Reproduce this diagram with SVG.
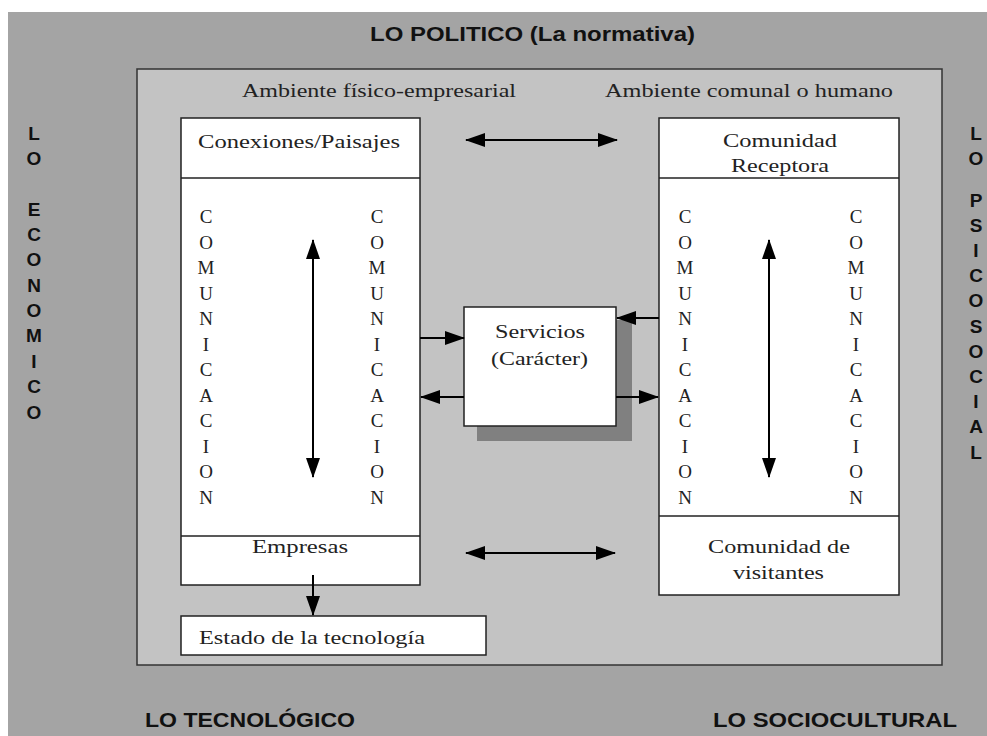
<svg xmlns="http://www.w3.org/2000/svg" width="987" height="736" viewBox="0 0 987 736">
<defs>
<marker id="ah" markerUnits="userSpaceOnUse" markerWidth="20" markerHeight="14" refX="19" refY="7" orient="auto-start-reverse">
<path d="M0,0 L20,7 L0,14 z" fill="#000"/>
</marker>
<style>
.sans{font-family:"Liberation Sans",Arial,sans-serif;font-weight:bold;fill:#111}
.serif{font-family:"Liberation Serif","Times New Roman",serif;fill:#222}
.box{fill:#fff;stroke:#222;stroke-width:1.5}
.div{stroke:#222;stroke-width:1.5}
.ln{stroke:#000;stroke-width:2;fill:none}
.v{font-size:19px;text-anchor:middle}
.t{font-size:18px}
</style>
</defs>
<rect x="0" y="0" width="987" height="736" fill="#fff"/>
<rect x="8" y="12" width="979" height="724" fill="#a4a4a4"/>
<rect id="inner" x="137" y="69" width="805" height="596" fill="#c3c3c3" stroke="#333" stroke-width="1.5"/>

<text class="sans" x="370" y="41" font-size="20" textLength="325" lengthAdjust="spacingAndGlyphs">LO POLITICO (La normativa)</text>
<text class="serif t" x="242" y="97" textLength="274" lengthAdjust="spacingAndGlyphs">Ambiente físico-empresarial</text>
<text class="serif t" x="605" y="97" textLength="288" lengthAdjust="spacingAndGlyphs">Ambiente comunal o humano</text>
<text class="sans" x="145" y="727" font-size="21" textLength="210" lengthAdjust="spacingAndGlyphs">LO TECNOLÓGICO</text>
<text class="sans" x="713" y="727" font-size="21" textLength="244" lengthAdjust="spacingAndGlyphs">LO SOCIOCULTURAL</text>

<g id="economico" class="sans v">
<text x="34" y="140">L</text><text x="34" y="165">O</text>
<text x="34" y="216">E</text><text x="34" y="241">C</text><text x="34" y="266">O</text><text x="34" y="292">N</text><text x="34" y="317">O</text><text x="34" y="342">M</text><text x="34" y="368">I</text><text x="34" y="393">C</text><text x="34" y="419">O</text>
</g>
<g id="psicosocial" class="sans v">
<text x="976" y="140">L</text><text x="976" y="165">O</text>
<text x="976" y="207">P</text><text x="976" y="232">S</text><text x="976" y="257">I</text><text x="976" y="282">C</text><text x="976" y="307">O</text><text x="976" y="333">S</text><text x="976" y="358">O</text><text x="976" y="383">C</text><text x="976" y="408">I</text><text x="976" y="433">A</text><text x="976" y="459">L</text>
</g>

<g id="ambiente-fisico">
<rect class="box" x="181" y="118" width="239" height="467"/>
<line class="div" x1="181" y1="178" x2="420" y2="178"/>
<line class="div" x1="181" y1="536" x2="420" y2="536"/>
<text class="serif t" x="198" y="148" textLength="202" lengthAdjust="spacingAndGlyphs">Conexiones/Paisajes</text>
<text class="serif t" x="252" y="553" textLength="96" lengthAdjust="spacingAndGlyphs">Empresas</text>
<g class="serif v">
<text x="206" y="223">C</text><text x="206" y="248.5">O</text><text x="206" y="274">M</text><text x="206" y="299.5">U</text><text x="206" y="325">N</text><text x="206" y="350.5">I</text><text x="206" y="376">C</text><text x="206" y="401.5">A</text><text x="206" y="427">C</text><text x="206" y="452.5">I</text><text x="206" y="478">O</text><text x="206" y="503.5">N</text>
<text x="377" y="223">C</text><text x="377" y="248.5">O</text><text x="377" y="274">M</text><text x="377" y="299.5">U</text><text x="377" y="325">N</text><text x="377" y="350.5">I</text><text x="377" y="376">C</text><text x="377" y="401.5">A</text><text x="377" y="427">C</text><text x="377" y="452.5">I</text><text x="377" y="478">O</text><text x="377" y="503.5">N</text>
</g>
</g>

<g id="estado-tecnologia">
<rect class="box" x="181" y="616" width="305" height="39"/>
<text class="serif t" x="199" y="644" textLength="226" lengthAdjust="spacingAndGlyphs">Estado de la tecnología</text>
</g>

<g id="ambiente-comunal">
<rect class="box" x="659" y="118" width="240" height="477"/>
<line class="div" x1="659" y1="178" x2="899" y2="178"/>
<line class="div" x1="659" y1="516" x2="899" y2="516"/>
<text class="serif t" x="723" y="147" textLength="114" lengthAdjust="spacingAndGlyphs">Comunidad</text>
<text class="serif t" x="731" y="172" textLength="98" lengthAdjust="spacingAndGlyphs">Receptora</text>
<text class="serif t" x="708" y="553" textLength="142" lengthAdjust="spacingAndGlyphs">Comunidad de</text>
<text class="serif t" x="733" y="579" textLength="91" lengthAdjust="spacingAndGlyphs">visitantes</text>
<g class="serif v">
<text x="685" y="223">C</text><text x="685" y="248.5">O</text><text x="685" y="274">M</text><text x="685" y="299.5">U</text><text x="685" y="325">N</text><text x="685" y="350.5">I</text><text x="685" y="376">C</text><text x="685" y="401.5">A</text><text x="685" y="427">C</text><text x="685" y="452.5">I</text><text x="685" y="478">O</text><text x="685" y="503.5">N</text>
<text x="856" y="223">C</text><text x="856" y="248.5">O</text><text x="856" y="274">M</text><text x="856" y="299.5">U</text><text x="856" y="325">N</text><text x="856" y="350.5">I</text><text x="856" y="376">C</text><text x="856" y="401.5">A</text><text x="856" y="427">C</text><text x="856" y="452.5">I</text><text x="856" y="478">O</text><text x="856" y="503.5">N</text>
</g>
</g>

<g id="servicios">
<rect x="477" y="320" width="155" height="121" fill="#808080"/>
<rect class="box" x="464" y="307" width="152" height="119"/>
<text class="serif t" x="495" y="338" textLength="90" lengthAdjust="spacingAndGlyphs">Servicios</text>
<text class="serif t" x="491" y="365" textLength="97" lengthAdjust="spacingAndGlyphs">(Carácter)</text>
</g>

<g id="connectors">
<line class="ln" x1="466" y1="140" x2="617" y2="140" marker-start="url(#ah)" marker-end="url(#ah)"/>
<line class="ln" x1="466" y1="553" x2="615" y2="553" marker-start="url(#ah)" marker-end="url(#ah)"/>
<line class="ln" x1="313" y1="240" x2="313" y2="477" marker-start="url(#ah)" marker-end="url(#ah)"/>
<line class="ln" x1="769" y1="240" x2="769" y2="477" marker-start="url(#ah)" marker-end="url(#ah)"/>
<line class="ln" x1="313" y1="575" x2="313" y2="615" marker-end="url(#ah)"/>
<line class="ln" x1="420" y1="338" x2="464" y2="338" marker-end="url(#ah)"/>
<line class="ln" x1="464" y1="397" x2="421" y2="397" marker-end="url(#ah)"/>
<line class="ln" x1="659" y1="318" x2="617" y2="318" marker-end="url(#ah)"/>
<line class="ln" x1="616" y1="397" x2="658" y2="397" marker-end="url(#ah)"/>
</g>
</svg>
